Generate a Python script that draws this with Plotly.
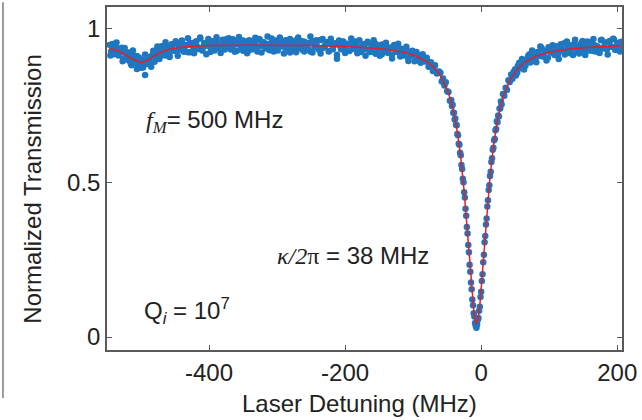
import plotly.graph_objects as go

# ---------------- measured data (read from the picture) ----------------
# segment 1: around the small side dip at -500 MHz
x_seg1 = [-546, -544, -542, -540, -538, -536, -534, -532, -530, -528, -526, -524, -522, -520,
          -518, -516, -514, -512, -510, -508, -506, -504, -502, -500, -498, -496, -494, -492,
          -490, -488, -486, -484, -482, -480, -478, -476, -474, -472, -470, -468, -466, -464,
          -462, -460, -458, -456, -454, -452, -450, -448, -446, -444, -442, -440]
y_seg1 = [.948, .927, .937, .918, .952, .925, .937, .916, .925, .939, .902, .925, .913, .924,
          .897, .911, .882, .915, .893, .898, .912, .882, .896, .874, .899, .891, .850, .887,
          .902, .897, .890, .913, .920, .893, .917, .933, .914, .911, .944, .925, .935, .914,
          .943, .936, .909, .944, .931, .951, .929, .955, .928, .944, .937, .962]

# segment 2: flat region left of the resonance
x_seg2 = [-437, -434, -431, -428, -425, -422, -419, -416, -413, -410, -407, -404, -401, -398,
          -395, -392, -389, -386, -383, -380, -377, -374, -371, -368, -365, -362, -359, -356,
          -353, -350, -347, -344, -341, -338, -335, -332, -329, -326, -323, -320, -317, -314,
          -311, -308, -305, -302, -299, -296, -293, -290, -287, -284, -281, -278, -275, -272,
          -269, -266, -263, -260, -257, -254, -251, -248, -245, -242, -239, -236, -233, -230,
          -227, -224, -221, -218, -215, -212, -209, -206, -203, -200, -197, -194, -191, -188,
          -185, -182, -179, -176, -173, -170, -167, -164, -161, -158, -155, -152, -149, -146,
          -143, -140, -137, -134, -131, -128, -125, -122, -119, -116, -113, -110, -107, -104,
          -101, -98, -95, -92, -89, -86, -83, -80, -77, -74, -71, -68, -65, -62]
y_seg2 = [.928, .948, .924, .953, .945, .938, .957, .935, .972, .930, .950, .945, .954, .925,
          .958, .942, .962, .937, .947, .956, .933, .967, .940, .950, .935, .958, .929, .953,
          .944, .962, .938, .948, .931, .960, .942, .954, .927, .965, .945, .957, .936, .951,
          .940, .969, .934, .950, .930, .956, .943, .961, .937, .953, .923, .957, .945, .963,
          .938, .948, .932, .958, .940, .954, .927, .961, .942, .950, .933, .964, .938, .945,
          .957, .928, .951, .942, .953, .903, .947, .934, .959, .938, .950, .929, .954, .940,
          .959, .931, .943, .925, .950, .935, .958, .930, .944, .925, .951, .934, .945, .918,
          .938, .947, .924, .939, .917, .940, .926, .944, .915, .930, .917, .934, .905, .926,
          .914, .925, .898, .914, .897, .912, .894, .901, .878, .889, .872, .880, .855, .860]

# second sweep of points over the left flat region (interleaved)
x_seg2b = [-545, -542, -539, -536, -533, -530, -527, -524, -521, -518,
           -515, -512, -509, -506, -503, -500, -497, -494, -491, -488,
           -485, -482, -479, -476, -473, -470, -467, -464, -461, -458,
           -455, -452, -449, -446, -443, -440, -437, -434, -431, -428,
           -425, -422, -419, -416, -413, -410, -407, -404, -401, -398,
           -395, -392, -389, -386, -383, -380, -377, -374, -371, -368,
           -365, -362, -359, -356, -353, -350, -347, -344, -341, -338,
           -335, -332, -329, -326, -323, -320, -317, -314, -311, -308,
           -305, -302, -299, -296, -293, -290, -287, -284, -281, -278,
           -275, -272, -269, -266, -263, -260, -257, -254, -251, -248,
           -245, -242, -239, -236, -233, -230, -227, -224, -221, -218,
           -215, -212, -209, -206, -203, -200, -197, -194, -191, -188,
           -185, -182, -179, -176, -173, -170, -167, -164, -161, -158,
           -155, -152, -149, -146, -143, -140, -137, -134, -131, -128,
           -125, -122, -119, -116, -113, -110, -107, -104, -101, -98,
           -95, -92, -89, -86, -83, -80, -77, -74, -71, -68,
           -65, -62]
y_seg2b = [.914, .951, .924, .956, .914, .930, .895, .938, .912, .922,
           .888, .930, .889, .870, .907, .892, .875, .917, .886, .909,
           .877, .929, .910, .943, .902, .935, .915, .957, .931, .913,
           .950, .930, .960, .913, .946, .959, .926, .945, .970, .924,
           .954, .921, .960, .940, .969, .933, .954, .918, .967, .941,
           .960, .930, .973, .947, .922, .965, .937, .954, .970, .933,
           .966, .926, .951, .974, .938, .929, .959, .921, .963, .949,
           .934, .971, .940, .967, .923, .956, .944, .975, .931, .952,
           .927, .962, .936, .972, .946, .920, .963, .938, .967, .931,
           .957, .924, .972, .941, .960, .927, .954, .934, .975, .923,
           .948, .963, .936, .920, .967, .941, .957, .927, .968, .934,
           .950, .916, .962, .941, .958, .922, .952, .928, .969, .935,
           .953, .921, .963, .932, .943, .913, .955, .925, .947, .963,
           .919, .937, .913, .949, .929, .955, .922, .939, .904, .948,
           .926, .952, .910, .935, .914, .942, .896, .923, .929, .895,
           .925, .901, .890, .918, .897, .906, .877, .892, .863, .882,
           .860, .862]

# segment 3: the main resonance dip
x_seg3 = [-60, -58, -56, -54, -52, -50, -48, -46, -44, -43, -42, -41, -40, -39, -38, -37, -36,
          -35, -34, -33, -32, -31, -30, -29, -28, -27, -26, -25, -24, -23, -22, -21, -20, -19,
          -18, -17, -16, -15, -14, -13, -12, -11, -10, -9, -8, -7, -6, -5, -4, -3, -2, -1, 0,
          1, 2, 3, 4, 5, 6, 7, 8, 9, 10, 11, 12, 13, 14, 15, 16, 17, 18, 19, 20, 21, 22, 23,
          24, 25, 26, 27, 28, 29, 30, 32, 34, 36, 38, 40, 42, 44, 46, 48]
y_seg3 = [.858, .829, .839, .816, .827, .798, .795, .767, .769, .750, .754, .728, .728, .706,
          .709, .689, .687, .659, .655, .627, .624, .598, .590, .558, .545, .514, .502, .470,
          .453, .416, .394, .357, .336, .299, .275, .235, .212, .177, .155, .122, .103, .077,
          .067, .046, .037, .030, .041, .055, .062, .085, .098, .130, .147, .182, .204, .243,
          .267, .308, .328, .365, .385, .424, .444, .477, .493, .523, .536, .568, .580, .608,
          .614, .639, .643, .671, .675, .700, .697, .719, .716, .742, .742, .764, .755, .789,
          .783, .809, .802, .833, .828, .852, .838, .862]

# segment 4: flat region right of the resonance
x_seg4 = [50, 53, 56, 59, 62, 65, 68, 71, 74, 77, 80, 83, 86, 89, 92, 95, 98, 101, 104, 107,
          110, 113, 116, 119, 122, 125, 128, 131, 134, 137, 140, 143, 146, 149, 152, 155, 158,
          161, 164, 167, 170, 173, 176, 179, 182, 185, 188, 191, 194, 197, 200, 203, 206]
y_seg4 = [.869, .858, .890, .876, .898, .880, .902, .918, .896, .911, .896, .925, .912, .937,
          .910, .928, .906, .936, .927, .919, .944, .918, .938, .929, .953, .926, .944, .921,
          .939, .952, .928, .945, .936, .961, .928, .951, .935, .957, .928, .947, .943, .926,
          .963, .939, .954, .934, .958, .942, .968, .932, .952, .939, .958]

# second sweep over the right flat region (interleaved)
x_seg4b = [51, 54, 57, 60, 63, 66, 69, 72, 75, 78,
           81, 84, 87, 90, 93, 96, 99, 102, 105, 108,
           111, 114, 117, 120, 123, 126, 129, 132, 135, 138,
           141, 144, 147, 150, 153, 156, 159, 162, 165, 168,
           171, 174, 177, 180, 183, 186, 189, 192, 195, 198,
           201, 204]
y_seg4b = [.849, .880, .872, .902, .868, .898, .912, .891, .930, .906,
           .892, .925, .943, .911, .927, .897, .940, .924, .947, .915,
           .937, .902, .950, .934, .917, .959, .925, .947, .915, .965,
           .932, .920, .953, .941, .915, .959, .930, .947, .967, .927,
           .943, .922, .965, .936, .956, .917, .961, .942, .966, .932,
           .955, .927]

# Lorentzian fit curve
fit_x = [-546, -540, -530, -520, -510, -500, -490, -480, -470, -460, -450, -440, -420, -400,
         -350, -300, -250, -200, -150, -120, -100, -80, -70, -60, -50, -45, -40, -35, -30,
         -25, -20, -15, -12, -10, -7, -4, -2, 3, 8, 13, 18, 23, 28, 33, 43, 53, 63, 80, 100,
         130, 160, 206]
fit_y = [.936, .933, .925, .913, .899, .891, .898, .913, .925, .933, .937, .941, .944, .946,
         .947, .947, .946, .943, .936, .927, .916, .894, .876, .848, .803, .770, .725, .665,
         .583, .472, .332, .179, .101, .064, .042, .064, .101, .239, .391, .520, .619, .692,
         .745, .784, .837, .869, .890, .911, .924, .935, .940, .945]

x_tick_vals = [-400, -200, 0, 200]
x_tick_text = ["-400", "-200", "0", "200"]
y_tick_vals = [0, 0.5, 1]
y_tick_text = ["0", "0.5", "1"]

data_x = x_seg1 + x_seg2b + x_seg2 + x_seg4b + x_seg4 + x_seg3
data_y = y_seg1 + y_seg2b + y_seg2 + y_seg4b + y_seg4 + y_seg3

FONT = "Liberation Sans, Arial, sans-serif"
AXC = "#5a5a5a"
TXT = "#222222"

fig = go.Figure()
fig.add_trace(go.Scatter(x=data_x, y=data_y, mode="markers",
                         marker=dict(color="#1f77c0", size=6.5, line=dict(width=0)),
                         showlegend=False, hoverinfo="skip"))
fig.add_trace(go.Scatter(x=fit_x, y=fit_y, mode="lines", line=dict(color="#e0202a", width=1.5),
                         showlegend=False, hoverinfo="skip"))

axis_common = dict(showline=True, linecolor=AXC, linewidth=1.5, mirror="allticks",
                   ticks="inside", ticklen=5, tickcolor=AXC, tickwidth=1.3,
                   showgrid=False, zeroline=False, ticklabeloverflow="allow",
                   tickfont=dict(family=FONT, size=24, color=TXT))
fig.update_xaxes(range=[-550, 207], tickvals=x_tick_vals, ticktext=x_tick_text, **axis_common)
fig.update_yaxes(range=[-0.042, 1.071], tickvals=y_tick_vals, ticktext=y_tick_text, **axis_common)

annots = [
    dict(x=0.49, y=-0.157, xref="paper", yref="paper", text="Laser Detuning (MHz)",
         showarrow=False, font=dict(family=FONT, size=24, color=TXT),
         xanchor="center", yanchor="middle"),
    dict(x=-0.144, y=0.47, xref="paper", yref="paper", text="Normalized Transmission",
         textangle=-90, showarrow=False, font=dict(family=FONT, size=24, color=TXT),
         xanchor="center", yanchor="middle"),
    dict(x=-495, y=0.70, xref="x", yref="y",
         text="<span style='font-family:Liberation Serif'><i>f</i></span>"
              "<sub><span style='font-family:Liberation Serif'><i>M</i></span></sub>= 500 MHz",
         showarrow=False, font=dict(family=FONT, size=24, color=TXT),
         xanchor="left", yanchor="middle"),
    dict(x=-303, y=0.265, xref="x", yref="y",
         text="<span style='font-family:Liberation Serif'><i>κ/2</i>π</span> = 38 MHz",
         showarrow=False, font=dict(family=FONT, size=24, color=TXT),
         xanchor="left", yanchor="middle"),
    dict(x=-499, y=0.085, xref="x", yref="y",
         text="Q<sub><i>i</i></sub> = 10<sup>7</sup>",
         showarrow=False, font=dict(family=FONT, size=24, color=TXT),
         xanchor="left", yanchor="middle"),
]

fig.update_layout(
    width=642, height=420,
    margin=dict(l=107, r=15, t=5, b=70),
    paper_bgcolor="white", plot_bgcolor="white",
    annotations=annots,
    shapes=[dict(type="line", xref="paper", yref="paper", x0=-0.202, x1=-0.202,
                 y0=1.014, y1=-0.14, line=dict(color="#9a9a9a", width=2))],
)

fig.write_html("out.html", config={"displayModeBar": False},
               post_script="document.body.style.margin='0';")
